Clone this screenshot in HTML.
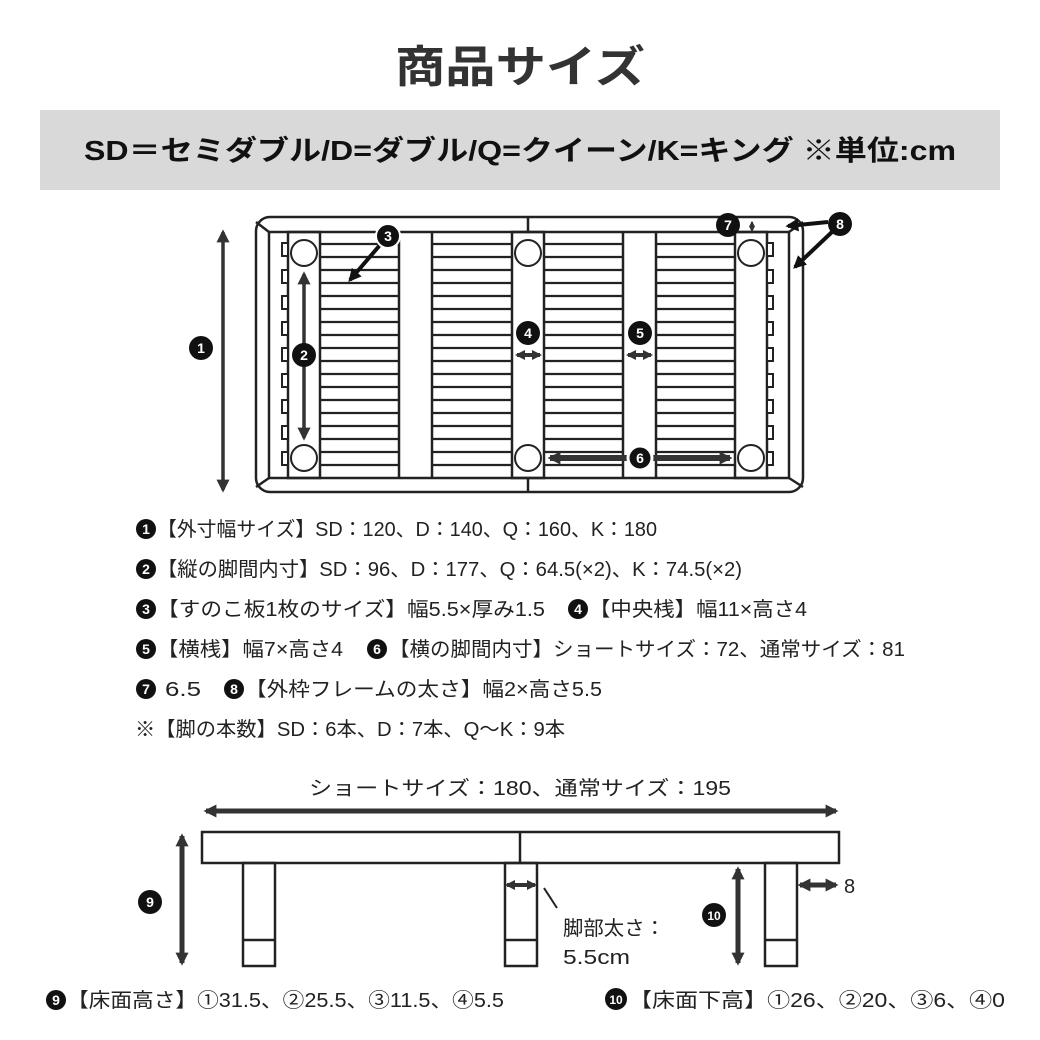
<!DOCTYPE html>
<html><head><meta charset="utf-8"><style>
html,body{margin:0;padding:0;background:#fff;}
svg{display:block;}
text{font-family:"Liberation Sans","Noto Sans CJK JP",sans-serif;fill:#222;}
.c{fill:#111;}
.n{fill:#fff;font-weight:bold;font-size:14px;text-anchor:middle;}
</style></head><body>
<svg width="1040" height="1040" viewBox="0 0 1040 1040" xmlns="http://www.w3.org/2000/svg">
<defs>
<marker id="ah" viewBox="0 0 10 10" refX="8" refY="5" markerUnits="userSpaceOnUse" markerWidth="13" markerHeight="14" orient="auto-start-reverse"><path d="M0,0 L10,5 L0,10 z" fill="#333"/></marker>
<marker id="as" viewBox="0 0 10 10" refX="8" refY="5" markerUnits="userSpaceOnUse" markerWidth="10" markerHeight="12" orient="auto-start-reverse"><path d="M0,0 L10,5 L0,10 z" fill="#333"/></marker>
<marker id="at" viewBox="0 0 10 10" refX="8" refY="5" markerUnits="userSpaceOnUse" markerWidth="6" markerHeight="7" orient="auto-start-reverse"><path d="M0,0 L10,5 L0,10 z" fill="#333"/></marker>
<marker id="ah2" viewBox="0 0 10 10" refX="8" refY="5" markerUnits="userSpaceOnUse" markerWidth="13" markerHeight="14" orient="auto"><path d="M0,0 L10,5 L0,10 z" fill="#111"/></marker>
</defs>
<rect width="1040" height="1040" fill="#fff"/>
<text x="520" y="82" font-size="44" font-weight="bold" text-anchor="middle" textLength="250" lengthAdjust="spacingAndGlyphs" style="fill:#333">商品サイズ</text>
<rect x="40" y="110" width="960" height="80" fill="#d9d9d9"/>
<text x="520" y="160" font-size="28" font-weight="bold" text-anchor="middle" textLength="872" lengthAdjust="spacingAndGlyphs" style="fill:#111">SD＝セミダブル/D=ダブル/Q=クイーン/K=キング ※単位:cm</text>

<g fill="none" stroke="#222" stroke-width="2.5">
<rect x="256" y="217" width="547" height="275" rx="14"/>
<rect x="269" y="232" width="520" height="246"/>
<line x1="256" y1="222" x2="269" y2="232"/><line x1="256" y1="487" x2="269" y2="478"/>
<line x1="803" y1="222" x2="789" y2="232"/><line x1="803" y1="487" x2="789" y2="478"/>
<line x1="528" y1="217" x2="528" y2="232"/><line x1="528" y1="478" x2="528" y2="492"/>
<rect x="288" y="232" width="32" height="246"/>
<rect x="512" y="232" width="32" height="246"/>
<rect x="735" y="232" width="32" height="246"/>
<line x1="399" y1="232" x2="399" y2="478"/><line x1="432" y1="232" x2="432" y2="478"/>
<line x1="623" y1="232" x2="623" y2="478"/><line x1="656" y1="232" x2="656" y2="478"/>
</g>
<g stroke="#222" stroke-width="2.2">
<path d="M320 244H399M432 244H512M544 244H623M656 244H735
M320 257H399M432 257H512M544 257H623M656 257H735
M320 270H399M432 270H512M544 270H623M656 270H735
M320 283H399M432 283H512M544 283H623M656 283H735
M320 296H399M432 296H512M544 296H623M656 296H735
M320 309H399M432 309H512M544 309H623M656 309H735
M320 322H399M432 322H512M544 322H623M656 322H735
M320 335H399M432 335H512M544 335H623M656 335H735
M320 348H399M432 348H512M544 348H623M656 348H735
M320 361H399M432 361H512M544 361H623M656 361H735
M320 374H399M432 374H512M544 374H623M656 374H735
M320 387H399M432 387H512M544 387H623M656 387H735
M320 400H399M432 400H512M544 400H623M656 400H735
M320 413H399M432 413H512M544 413H623M656 413H735
M320 426H399M432 426H512M544 426H623M656 426H735
M320 439H399M432 439H512M544 439H623M656 439H735
M320 452H399M432 452H512M544 452H623M656 452H735
M320 465H399M432 465H512M544 465H623M656 465H735"/>
</g>
<g fill="#fff" stroke="#222" stroke-width="2">
<rect x="282" y="243" width="6" height="13"/><rect x="282" y="270" width="6" height="13"/><rect x="282" y="296" width="6" height="13"/><rect x="282" y="322" width="6" height="13"/><rect x="282" y="348" width="6" height="13"/><rect x="282" y="374" width="6" height="13"/><rect x="282" y="400" width="6" height="13"/><rect x="282" y="426" width="6" height="13"/><rect x="282" y="452" width="6" height="13"/>
<rect x="767" y="243" width="6" height="13"/><rect x="767" y="270" width="6" height="13"/><rect x="767" y="296" width="6" height="13"/><rect x="767" y="322" width="6" height="13"/><rect x="767" y="348" width="6" height="13"/><rect x="767" y="374" width="6" height="13"/><rect x="767" y="400" width="6" height="13"/><rect x="767" y="426" width="6" height="13"/><rect x="767" y="452" width="6" height="13"/>
<circle cx="304" cy="253" r="13"/><circle cx="528" cy="253" r="13"/><circle cx="751" cy="253" r="13"/>
<circle cx="304" cy="458" r="13"/><circle cx="528" cy="458" r="13"/><circle cx="751" cy="458" r="13"/>
</g>
<g stroke="#333" stroke-width="3.5" fill="none">
<line x1="223" y1="232" x2="223" y2="490" marker-start="url(#ah)" marker-end="url(#ah)"/>
<line x1="304" y1="274" x2="304" y2="438" marker-start="url(#ah)" marker-end="url(#ah)"/>
<line x1="517" y1="355" x2="540" y2="355" stroke-width="4" marker-start="url(#as)" marker-end="url(#as)"/>
<line x1="628" y1="355" x2="651" y2="355" stroke-width="4" marker-start="url(#as)" marker-end="url(#as)"/>
<line x1="550" y1="458" x2="730" y2="458" stroke-width="6" marker-start="url(#ah)" marker-end="url(#ah)"/>
<line x1="752" y1="222" x2="752" y2="231" stroke-width="2" marker-start="url(#at)" marker-end="url(#at)"/>
</g>
<g stroke="#111" stroke-width="4">
<line x1="380" y1="245" x2="350" y2="280" marker-end="url(#ah2)"/>
<line x1="828" y1="222" x2="788" y2="226" marker-end="url(#ah2)"/>
<line x1="832" y1="232" x2="795" y2="267" marker-end="url(#ah2)"/>
</g>
<g>
<circle class="c" cx="201" cy="348" r="12"/><text class="n" x="201" y="353">1</text>
<circle class="c" cx="304" cy="355" r="12"/><text class="n" x="304" y="360">2</text>
<circle class="c" cx="388" cy="236" r="12" stroke="#fff" stroke-width="2"/><text class="n" x="388" y="241">3</text>
<circle class="c" cx="528" cy="333" r="12"/><text class="n" x="528" y="338">4</text>
<circle class="c" cx="640" cy="333" r="12"/><text class="n" x="640" y="338">5</text>
<circle class="c" cx="640" cy="458" r="12" stroke="#fff" stroke-width="3"/><text class="n" x="640" y="463">6</text>
<circle class="c" cx="728" cy="225" r="12"/><text class="n" x="728" y="230">7</text>
<circle class="c" cx="840" cy="224" r="12"/><text class="n" x="840" y="229">8</text>
</g>

<g font-size="20">
<circle class="c" cx="146" cy="529" r="10"/><text class="n" x="146" y="534">1</text>
<text x="157" y="536" textLength="500" lengthAdjust="spacingAndGlyphs">【外寸幅サイズ】SD：120、D：140、Q：160、K：180</text>
<circle class="c" cx="146" cy="569" r="10"/><text class="n" x="146" y="574">2</text>
<text x="157" y="576" textLength="585" lengthAdjust="spacingAndGlyphs">【縦の脚間内寸】SD：96、D：177、Q：64.5(×2)、K：74.5(×2)</text>
<circle class="c" cx="146" cy="609" r="10"/><text class="n" x="146" y="614">3</text>
<text x="157" y="616" textLength="388" lengthAdjust="spacingAndGlyphs">【すのこ板1枚のサイズ】幅5.5×厚み1.5</text>
<circle class="c" cx="578" cy="609" r="10"/><text class="n" x="578" y="614">4</text>
<text x="589" y="616" textLength="218" lengthAdjust="spacingAndGlyphs">【中央桟】幅11×高さ4</text>
<circle class="c" cx="146" cy="649" r="10"/><text class="n" x="146" y="654">5</text>
<text x="157" y="656" textLength="186" lengthAdjust="spacingAndGlyphs">【横桟】幅7×高さ4</text>
<circle class="c" cx="377" cy="649" r="10"/><text class="n" x="377" y="654">6</text>
<text x="389" y="656" textLength="516" lengthAdjust="spacingAndGlyphs">【横の脚間内寸】ショートサイズ：72、通常サイズ：81</text>
<circle class="c" cx="146" cy="689" r="10"/><text class="n" x="146" y="694">7</text>
<text x="165" y="696" textLength="36" lengthAdjust="spacingAndGlyphs">6.5</text>
<circle class="c" cx="234" cy="689" r="10"/><text class="n" x="234" y="694">8</text>
<text x="245" y="696" textLength="357" lengthAdjust="spacingAndGlyphs">【外枠フレームの太さ】幅2×高さ5.5</text>
<text x="135" y="736" textLength="430" lengthAdjust="spacingAndGlyphs">※【脚の本数】SD：6本、D：7本、Q〜K：9本</text>
</g>

<text x="520" y="795" font-size="20" text-anchor="middle" textLength="422" lengthAdjust="spacingAndGlyphs">ショートサイズ：180、通常サイズ：195</text>
<g stroke="#333" stroke-width="5">
<line x1="206" y1="811" x2="836" y2="811" marker-start="url(#ah)" marker-end="url(#ah)"/>
<line x1="182" y1="836" x2="182" y2="963" marker-start="url(#ah)" marker-end="url(#ah)"/>
<line x1="738" y1="869" x2="738" y2="963" marker-start="url(#ah)" marker-end="url(#ah)"/>
<line x1="800" y1="885" x2="836" y2="885" marker-start="url(#ah)" marker-end="url(#ah)"/>
<line x1="507" y1="885" x2="535" y2="885" stroke-width="4" marker-start="url(#as)" marker-end="url(#as)"/>
</g>
<g fill="none" stroke="#222" stroke-width="2.5">
<rect x="202" y="832" width="637" height="31"/>
<line x1="520" y1="832" x2="520" y2="863"/>
<rect x="243" y="863" width="32" height="103"/><line x1="243" y1="940" x2="275" y2="940"/>
<rect x="505" y="863" width="32" height="103"/><line x1="505" y1="940" x2="537" y2="940"/>
<rect x="765" y="863" width="32" height="103"/><line x1="765" y1="940" x2="797" y2="940"/>
<line x1="544" y1="888" x2="557" y2="908" stroke-width="2"/>
</g>
<text x="844" y="893" font-size="20">8</text>
<text x="563" y="935" font-size="20" textLength="102" lengthAdjust="spacingAndGlyphs">脚部太さ：</text>
<text x="563" y="964" font-size="20" textLength="67" lengthAdjust="spacingAndGlyphs">5.5cm</text>
<circle class="c" cx="150" cy="902" r="12"/><text class="n" x="150" y="907">9</text>
<circle class="c" cx="714" cy="915" r="12"/><text class="n" x="714" y="920" style="font-size:12px">10</text>

<g font-size="20">
<circle class="c" cx="56" cy="1000" r="10"/><text class="n" x="56" y="1005">9</text>
<text x="67" y="1007" textLength="437" lengthAdjust="spacingAndGlyphs">【床面高さ】①31.5、②25.5、③11.5、④5.5</text>
<circle class="c" cx="616" cy="999" r="11"/><text class="n" x="616" y="1004" style="font-size:12px">10</text>
<text x="629" y="1007" textLength="376" lengthAdjust="spacingAndGlyphs">【床面下高】①26、②20、③6、④0</text>
</g>
</svg>
</body></html>
